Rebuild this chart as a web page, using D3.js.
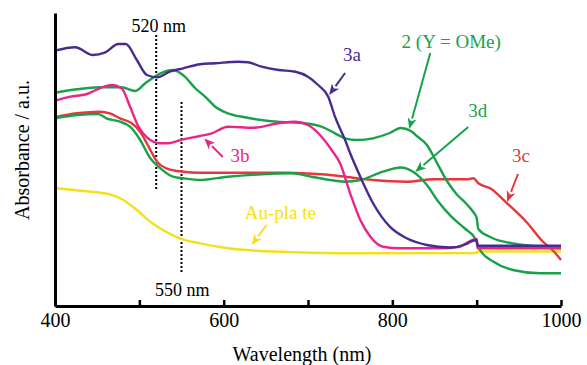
<!DOCTYPE html>
<html>
<head>
<meta charset="utf-8">
<script src="https://cdn.jsdelivr.net/npm/d3@7"></script>
<style>
  html, body { margin: 0; padding: 0; background: #fff; }
  svg { display: block; }
  svg text { font-family: 'Liberation Serif', 'Times New Roman', 'DejaVu Serif', serif; }
</style>
</head>
<body>
<svg id="chart" width="587" height="365"></svg>
<script>
// ---------- data (wavelength in nm, absorbance in a.u.) ----------
const wl3a  = [400,424,445,459,475,484,497,509,521,536,552,572,590,617,629,645,665,685,700,712,724,732,744,750,762,777,797,817,841,868,888,892,900,901,1000];
const abs3a = [2.553,2.587,2.51,2.533,2.62,2.62,2.46,2.31,2.287,2.343,2.377,2.417,2.427,2.443,2.437,2.393,2.36,2.343,2.293,2.21,2.093,1.893,1.66,1.527,1.293,1.03,0.793,0.677,0.61,0.585,0.62,0.64,0.66,0.603,0.603];

const wl3b  = [400,418,438,453,467,479,489,499,509,525,532,552,572,586,605,635,665,685,700,716,728,738,750,762,774,789,809,857,880,890,897,900,901,1000];
const abs3b = [2.053,2.093,2.12,2.177,2.21,2.177,1.993,1.793,1.687,1.627,1.627,1.667,1.70,1.727,1.793,1.783,1.827,1.843,1.81,1.693,1.56,1.427,1.127,0.86,0.693,0.593,0.577,0.577,0.593,0.64,0.665,0.67,0.577,0.577];

const wl2   = [400,426,453,479,495,507,525,540,554,566,578,590,605,625,664,696,716,732,744,758,777,797,810,822,829,841,853,864,876,888,896,900,902,916,947,975,1000];
const abs2  = [2.133,2.167,2.187,2.187,2.15,2.227,2.327,2.36,2.293,2.18,2.093,1.993,1.927,1.887,1.843,1.827,1.793,1.727,1.677,1.66,1.677,1.73,1.78,1.75,1.70,1.61,1.43,1.26,1.12,1.02,0.94,0.88,0.77,0.69,0.62,0.595,0.577];

const wl3d  = [400,426,451,461,477,489,501,513,525,540,552,572,605,645,681,704,732,744,762,789,810,825,841,854,870,886,898,904,920,943,975,1000];
const abs3d = [1.877,1.91,1.92,1.877,1.843,1.793,1.66,1.477,1.377,1.293,1.277,1.26,1.293,1.317,1.327,1.293,1.253,1.243,1.26,1.343,1.385,1.34,1.21,1.05,0.893,0.775,0.677,0.56,0.443,0.36,0.327,0.327];

const wl3c  = [400,426,453,465,477,491,501,511,521,532,552,572,676,716,744,777,817,849,888,896,902,916,936,959,979,991,1000];
const abs3c = [1.887,1.927,1.943,1.927,1.877,1.827,1.743,1.593,1.443,1.377,1.343,1.333,1.333,1.317,1.293,1.26,1.243,1.267,1.267,1.277,1.227,1.177,1.027,0.84,0.64,0.55,0.46];

const wlAu  = [400,434,465,481,497,513,528,548,572,605,645,685,744,900,901,1000];
const absAu = [1.177,1.15,1.117,1.06,0.96,0.843,0.76,0.677,0.627,0.577,0.55,0.537,0.527,0.53,0.545,0.545];

const xTicks = [400,500,600,700,800,900,1000];
const xTickLabels = ["400","","600","","800","","1000"];
const markerWavelengths = [520, 550];

// ---------- styling / layout ----------
const FONT = "'Liberation Serif', 'Times New Roman', 'DejaVu Serif', serif";
const colors = { a:"#482b90", b:"#e8268a", two:"#17a24a", d:"#17a24a", c:"#e8363d", au:"#f3e01a" };
const seriesList = [
  { wl: wlAu, abs: absAu, color: colors.au },
  { wl: wl3c, abs: abs3c, color: colors.c },
  { wl: wl3d, abs: abs3d, color: colors.d },
  { wl: wl2,  abs: abs2,  color: colors.two },
  { wl: wl3b, abs: abs3b, color: colors.b },
  { wl: wl3a, abs: abs3a, color: colors.a }
];

const svg = d3.select("#chart").attr("font-family", FONT);
const x = d3.scaleLinear().domain([400, 1000]).range([55, 561]);
const y = d3.scaleLinear().domain([0, 2.93]).range([306, 13]);

const line = d3.line()
  .x(d => x(d[0])).y(d => y(d[1]))
  .curve(d3.curveMonotoneX);

// marker dotted lines
const markerSpans = { 520: [2.71, 1.16], 550: [2.04, 0.33] };
markerWavelengths.forEach(w => {
  svg.append("line")
    .attr("x1", x(w)).attr("x2", x(w))
    .attr("y1", y(markerSpans[w][0])).attr("y2", y(markerSpans[w][1]))
    .attr("stroke", "#000").attr("stroke-width", 2)
    .attr("stroke-dasharray", "2,2");
});

// curves
seriesList.forEach(s => {
  svg.append("path")
    .datum(s.wl.map((w, i) => [w, s.abs[i]]))
    .attr("d", line)
    .attr("fill", "none")
    .attr("stroke", s.color)
    .attr("stroke-width", 2.4)
    .attr("stroke-linejoin", "round");
});

// axes
const xAxis = d3.axisBottom(x).tickValues(xTicks)
  .tickSizeInner(-6).tickSizeOuter(0)
  .tickFormat((d, i) => xTickLabels[i]);
const gx = svg.append("g").attr("transform", `translate(0,${y(0)})`).call(xAxis);
gx.attr("font-family", FONT).attr("font-size", 20);
gx.select(".domain").attr("stroke", "#000").attr("stroke-width", 3);
gx.selectAll(".tick line").attr("stroke", "#000").attr("stroke-width", 2.5);
gx.selectAll(".tick text")
  .attr("y", 21).attr("dy", 0)
  .attr("fill", "#000")
  .attr("font-family", FONT)
  .attr("font-size", 20);

const yAxis = d3.axisLeft(y).tickValues([]).tickSizeOuter(0);
const gy = svg.append("g").attr("transform", `translate(${x(400)},0)`).call(yAxis);
gy.select(".domain").attr("stroke", "#000").attr("stroke-width", 3);

// axis titles
svg.append("text")
  .attr("x", 302).attr("y", 361)
  .attr("text-anchor", "middle")
  .attr("font-family", FONT).attr("font-size", 20)
  .text("Wavelength (nm)");

svg.append("text")
  .attr("transform", "translate(29,150) rotate(-90)")
  .attr("text-anchor", "middle")
  .attr("font-family", FONT).attr("font-size", 20)
  .text("Absorbance / a.u.");

// marker labels
svg.append("text").attr("x", x(523)).attr("y", y(2.74))
  .attr("text-anchor", "middle").attr("font-family", FONT).attr("font-size", 18).text("520 nm");
svg.append("text").attr("x", x(551)).attr("y", y(0.10))
  .attr("text-anchor", "middle").attr("font-family", FONT).attr("font-size", 18).text("550 nm");

// annotations: label position and arrow (from -> tip) in data coordinates
const annotations = [
  { text: "3a", color: colors.a, tx: 741.5, ty: 2.45, from: [744, 2.33], to: [725, 2.11] },
  { text: "2 (Y = OMe)", color: colors.two, tx: 811, ty: 2.58, from: [845, 2.53], to: [820, 1.77] },
  { text: "3d", color: colors.d, tx: 890, ty: 1.89, from: [890, 1.79], to: [827, 1.34] },
  { text: "3c", color: colors.c, tx: 942, ty: 1.44, from: [949, 1.32], to: [936, 1.04] },
  { text: "3b", color: colors.b, tx: 608, ty: 1.44, from: [599, 1.49], to: [577, 1.675] },
  { text: "Au-pla te", color: colors.au, tx: 625, ty: 0.87, from: [651, 0.81], to: [633, 0.61] }
];

annotations.forEach(a => {
  svg.append("text")
    .attr("x", x(a.tx)).attr("y", y(a.ty))
    .attr("fill", a.color)
    .attr("font-family", FONT).attr("font-size", 19)
    .style("white-space", "pre")
    .text(a.text);
  const x1 = x(a.from[0]), y1 = y(a.from[1]);
  const x2 = x(a.to[0]), y2 = y(a.to[1]);
  const ang = Math.atan2(y2 - y1, x2 - x1);
  const headLen = 11, headW = 4.5;
  const bx = x2 - headLen * Math.cos(ang), by = y2 - headLen * Math.sin(ang);
  svg.append("line")
    .attr("x1", x1).attr("y1", y1).attr("x2", bx).attr("y2", by)
    .attr("stroke", a.color).attr("stroke-width", 2);
  const px = -Math.sin(ang), py = Math.cos(ang);
  const notch = 3;
  const nx = x2 - (headLen - notch) * Math.cos(ang), ny = y2 - (headLen - notch) * Math.sin(ang);
  svg.append("path")
    .attr("d", `M${x2},${y2} L${bx + px*headW},${by + py*headW} L${nx},${ny} L${bx - px*headW},${by - py*headW} Z`)
    .attr("fill", a.color);
});
</script>
</body>
</html>
